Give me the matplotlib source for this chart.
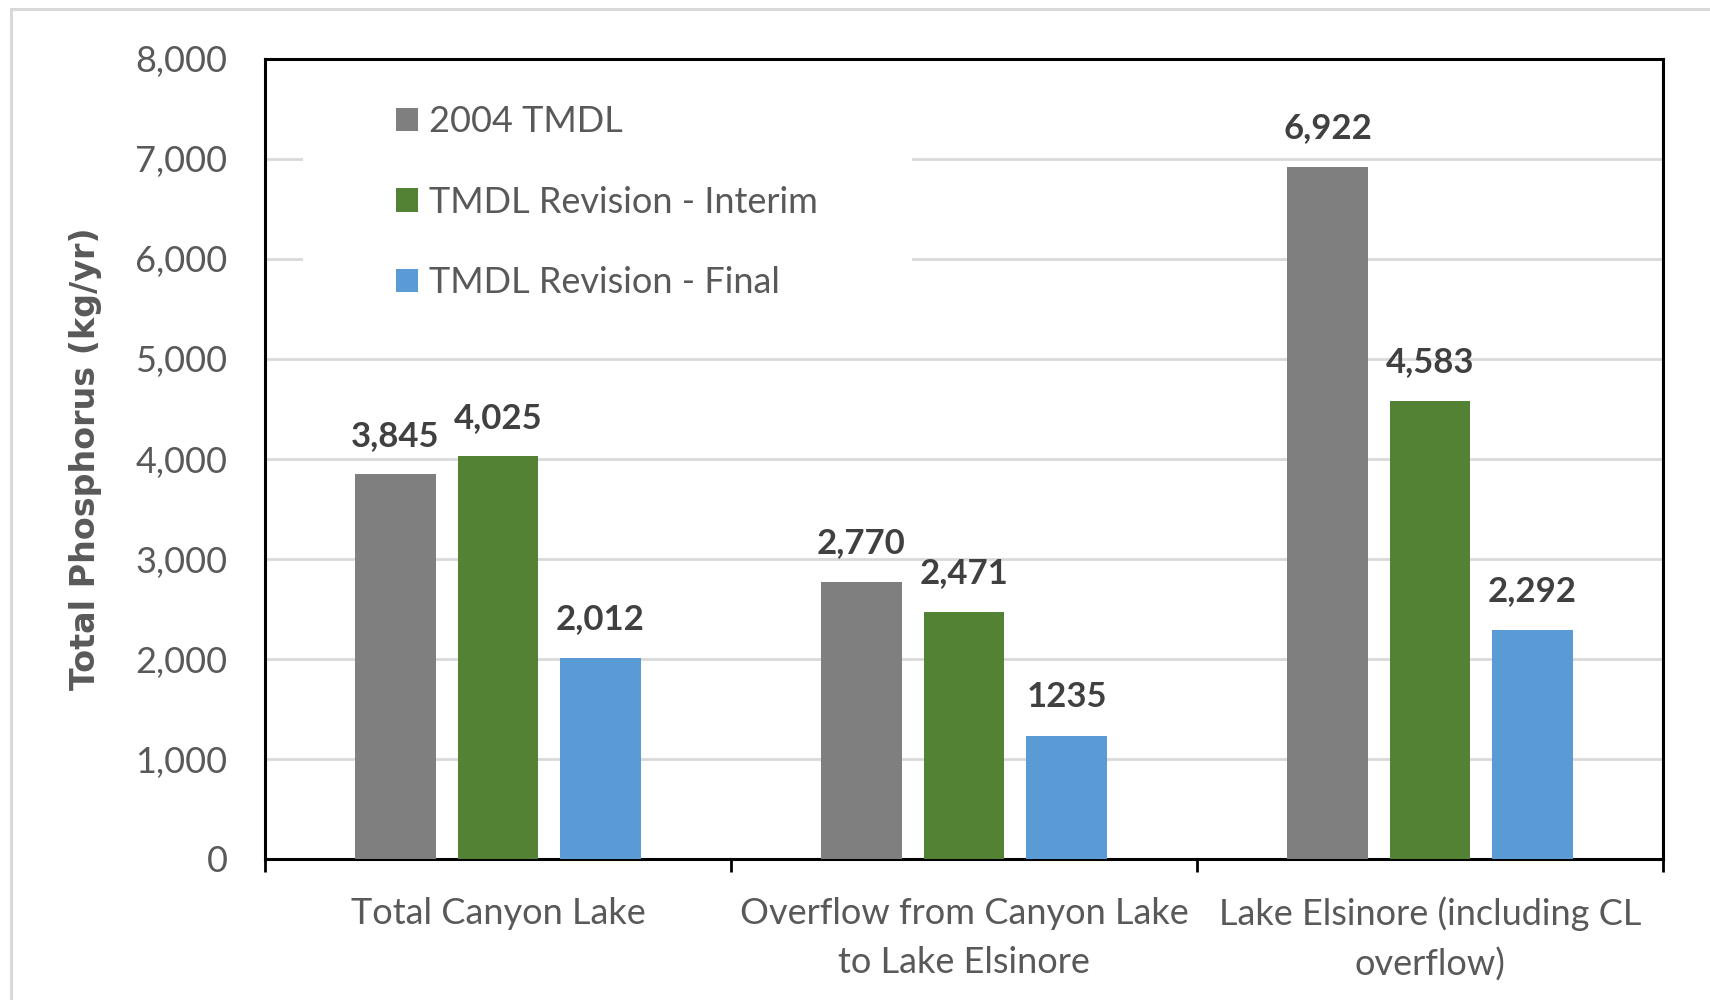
import matplotlib
matplotlib.use("Agg")
import matplotlib.pyplot as plt
import numpy as np
from matplotlib.patches import Rectangle, Patch
from matplotlib.ticker import FuncFormatter, FixedLocator

categories = ["Total Canyon Lake", "Overflow from Canyon Lake\nto Lake Elsinore",
              "Lake Elsinore (including CL\noverflow)"]
series_names = ["2004 TMDL", "TMDL Revision - Interim", "TMDL Revision - Final"]
tmdl_2004 = [3845, 2770, 6922]
revision_interim = [4025, 2471, 4583]
revision_final = [2012, 1235, 2292]
value_labels = [["3,845", "2,770", "6,922"],
                ["4,025", "2,471", "4,583"],
                ["2,012", "1235", "2,292"]]
colors = ["#7F7F7F", "#548235", "#5B9BD5"]

series = [tmdl_2004, revision_interim, revision_final]

fig = plt.figure(figsize=(17.1, 10), dpi=100)
ax = fig.add_axes([265/1710, 1-859/1000, (1663-265)/1710, (859-59)/1000])

x = np.arange(len(categories))
width = 0.172
offset = 0.22
tick_color = "#595959"
for i, (vals, col, name) in enumerate(zip(series, colors, series_names)):
    pos = x + (i - 1) * offset
    ax.bar(pos, vals, width=width, color=col, zorder=3, label=name)
    for px, v, lab in zip(pos, vals, value_labels[i]):
        ax.annotate(lab, (px, v), xytext=(0, 28), textcoords="offset points",
                    ha="center", va="center", fontsize=25, fontweight="bold",
                    color="#404040", family="Lato", zorder=5)

ax.set_xlim(-0.5, 2.5)
ax.set_ylim(0, 8000)
ax.set_yticks(np.arange(0, 8001, 1000))
ax.yaxis.set_major_formatter(FuncFormatter(lambda v, p: f"{int(v):,}"))
ax.tick_params(axis="y", length=0, pad=27, labelsize=26, labelcolor=tick_color)
for t in ax.get_yticklabels():
    t.set_family("Lato")

ax.set_xticks(x)
ax.set_xticklabels(categories, fontsize=26, color=tick_color, family="Lato",
                   linespacing=1.6)
ax.tick_params(axis="x", which="major", length=0, pad=27)
ax.xaxis.set_minor_locator(FixedLocator([-0.5, 0.5, 1.5, 2.5]))
ax.tick_params(axis="x", which="minor", length=9, width=2, direction="out", color="black")

ax.grid(axis="y", color="#D9D9D9", linewidth=2, zorder=0)
ax.set_axisbelow(True)
for s in ax.spines.values():
    s.set_color("black")
    s.set_linewidth(2.2)

ax.set_ylabel("Total Phosphorus (kg/yr)", fontsize=24, fontweight="bold",
              color=tick_color, family="DejaVu Sans", labelpad=24)

# white legend background box (hides gridlines like the original)
bg = Rectangle((303/1710, 1-310/1000), (912-303)/1710, (310-75)/1000,
               transform=fig.transFigure, facecolor="white", edgecolor="none",
               zorder=2)
ax.add_patch(bg)
bg.set_transform(fig.transFigure)

handles = [Patch(facecolor=c, edgecolor="none") for c in colors]
leg = ax.legend(handles, series_names, loc="upper left",
                bbox_to_anchor=(396/1710, 1-105/1000), bbox_transform=fig.transFigure,
                frameon=False, fontsize=26, handlelength=0.62, handleheight=0.62,
                handletextpad=0.3, labelspacing=1.32, borderaxespad=0, borderpad=0)
for t in leg.get_texts():
    t.set_color(tick_color)
    t.set_family("Lato")

# outer chart frame
frame = Rectangle((11/1710, -0.1), 1.2, 1-9/1000+0.1, transform=fig.transFigure,
                  facecolor="none", edgecolor="#D9D9D9", linewidth=2.2)
fig.add_artist(frame)

fig.savefig("out.png", dpi=100)
